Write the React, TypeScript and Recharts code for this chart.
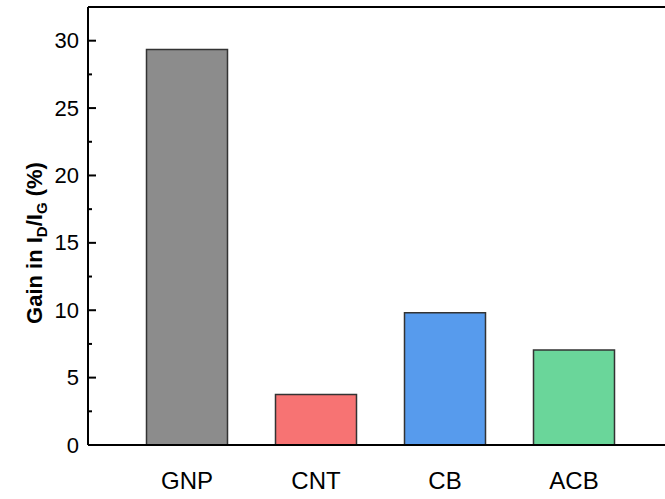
import React from "react";
import { BarChart, Bar, XAxis, YAxis, Cell, ReferenceLine } from "recharts";

const categories = ["GNP", "CNT", "CB", "ACB"];
const gainValues = [29.35, 3.75, 9.82, 7.05];
const barColors = ["#8c8c8c", "#f77373", "#579bed", "#6ad69a"];
const majorTicks = [0, 5, 10, 15, 20, 25, 30];
const minorTicks = [2.5, 7.5, 12.5, 17.5, 22.5, 27.5];
const yMax = 32.5;

const data = categories.map((c, i) => ({ name: c, value: gainValues[i] }));
const allTicks = [...majorTicks, ...minorTicks].sort((a, b) => a - b);

const FONT = "'Liberation Sans', Arial, sans-serif";
const TICK_GAP = 9;
const MAJOR_LEN = 8;
const MINOR_LEN = 4;

const YLabel = () => (
  <text
    transform="translate(42, 243) rotate(-90)"
    textAnchor="middle"
    fontFamily={FONT}
    fontWeight="bold"
    fontSize={22}
    fill="#000"
  >
    <tspan>Gain in I</tspan>
    <tspan fontSize={15} dy={5}>D</tspan>
    <tspan dy={-5}>/I</tspan>
    <tspan fontSize={15} dy={5}>G</tspan>
    <tspan dy={-5}> (%)</tspan>
  </text>
);

const renderYTick = (props: any) => {
  const { x, y, payload } = props;
  const axisX = x + TICK_GAP;
  const isMajor = majorTicks.includes(payload.value);
  return (
    <g key={`tick-${payload.value}`}>
      <path
        d={`M${axisX},${y}h${isMajor ? MAJOR_LEN : MINOR_LEN}`}
        stroke="#000"
        strokeWidth={2}
        fill="none"
      />
      {isMajor && (
        <text
          x={x}
          y={y}
          textAnchor="end"
          dominantBaseline="central"
          fontFamily={FONT}
          fontSize={22}
          fill="#000"
        >
          {payload.value}
        </text>
      )}
    </g>
  );
};

export default function App() {
  return (
    <div
      style={{
        position: "absolute",
        left: 0,
        top: 0,
        width: 665,
        height: 499,
        overflow: "hidden",
        background: "#fff",
      }}
    >
      <BarChart
        width={720}
        height={499}
        data={data}
        margin={{ top: 7, right: 0, bottom: 0, left: 0 }}
      >
        <XAxis
          dataKey="name"
          height={54}
          padding={{ left: 34.5, right: 81.5 }}
          tickLine={false}
          tickSize={0}
          tickMargin={27}
          axisLine={{ stroke: "#000", strokeWidth: 2 }}
          tick={{ fill: "#000", fontSize: 24, fontFamily: FONT }}
        />
        <YAxis
          width={88}
          domain={[0, yMax]}
          ticks={allTicks}
          interval={0}
          tickSize={0}
          tickMargin={TICK_GAP}
          axisLine={{ stroke: "#000", strokeWidth: 2 }}
          tickLine={false}
          tick={renderYTick}
          label={{ content: () => <YLabel /> }}
        />
        <ReferenceLine y={yMax} stroke="#000" strokeWidth={2} />
        <Bar
          dataKey="value"
          barSize={81}
          stroke="#333"
          strokeWidth={1.5}
          isAnimationActive={false}
        >
          {data.map((d, i) => (
            <Cell key={d.name} fill={barColors[i]} />
          ))}
        </Bar>
      </BarChart>
    </div>
  );
}
